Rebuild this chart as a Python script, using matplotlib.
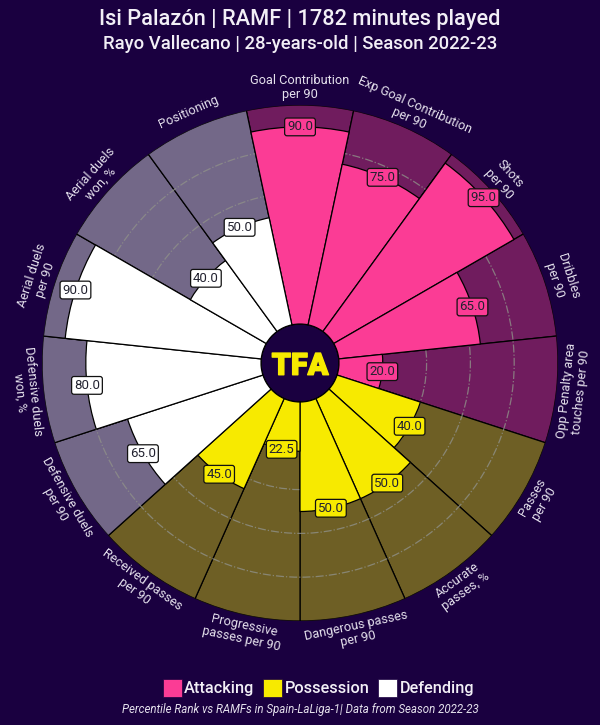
import numpy as np
import matplotlib
matplotlib.use('Agg')
import matplotlib.pyplot as plt
import matplotlib.patheffects as pe
from matplotlib.patches import Patch

plt.rcParams['font.family'] = ['Roboto', 'DejaVu Sans']

# data, clockwise from the top
params = ['Goal Contribution\nper 90', 'Exp Goal Contribution\nper 90', 'Shots\nper 90',
          'Dribbles\nper 90', 'Opp Penalty area\ntouches per 90', 'Passes\nper 90',
          'Accurate\npasses, %', 'Dangerous passes\nper 90', 'Progressive\npasses per 90',
          'Received passes\nper 90', 'Defensive duels\nper 90', 'Defensive duels\nwon, %',
          'Aerial duels\nper 90', 'Aerial duels\nwon, %', 'Positioning']
values = [90, 75, 95, 65, 20, 40, 50, 50, 22.5, 45, 65, 80, 90, 40, 50]
groups = ['Attacking'] * 5 + ['Possession'] * 5 + ['Defending'] * 5
group_names = ['Attacking', 'Possession', 'Defending']

BG = '#1a0040'
slice_colors = {'Attacking': '#fb3c95', 'Possession': '#f7ea00', 'Defending': '#ffffff'}
back_colors = {'Attacking': '#701c5e', 'Possession': '#6e5f25', 'Defending': '#736888'}

fig = plt.figure(figsize=(6, 7.25), dpi=100, facecolor=BG)
ax = fig.add_axes([42 / 600, 104 / 725, 516 / 600, 516 / 725], projection='polar')
ax.set_facecolor(BG)
ax.set_theta_zero_location('N')
ax.set_theta_direction(-1)

n = len(values)
width = 2 * np.pi / n
theta = np.arange(n) * width
colors = [slice_colors[g] for g in groups]
backs = [back_colors[g] for g in groups]

# background wedges, then the grid, then the real values on top
ax.bar(theta, [100] * n, width=width, color=backs, edgecolor='black', linewidth=0.9, zorder=1)
ax.bar(theta, values, width=width, color=colors, edgecolor='black', linewidth=0.9, zorder=3)

ax.set_ylim(-17.8, 100)
ax.set_yticks([40, 60, 80])
ax.set_yticklabels([])
ax.set_xticks([])
ax.set_axisbelow('line')
ax.yaxis.grid(True, color='#8f9088', linestyle='-.', linewidth=0.9, alpha=0.8)
ax.xaxis.grid(False)
ax.spines['polar'].set_visible(False)
ax.spines['inner'].set_visible(False)

for t, v, p, c in zip(theta, values, params, colors):
    deg = np.degrees(t)
    # labels follow the circle but stay readable
    if deg <= 90:
        rot = -deg
    elif deg <= 270:
        rot = 180 - deg
    else:
        rot = 360 - deg
    ax.text(t, 107.8, p, rotation=rot, rotation_mode='anchor', ha='center', va='center',
            ma='center', fontsize=9.2, color='#e4e0ec', linespacing=1.1, zorder=6)
    ax.text(t, v, f'{v:.1f}', ha='center', va='center', fontsize=9.5, color='#222230', zorder=5,
            bbox=dict(boxstyle='round,pad=0.18', fc=c, ec='#111111', lw=0.9))

ax.annotate('TFA', xy=(0, -17.8), xytext=(0, -2), textcoords='offset points', ha='center', va='center',
            fontsize=22, fontweight='black', color='#f7ea00', zorder=7,
            path_effects=[pe.withStroke(linewidth=1, foreground='#f7ea00')])

fig.text(0.5, 1 - 19 / 725, 'Isi Palazón | RAMF | 1782 minutes played', ha='center', va='center',
         fontsize=15.7, fontweight='medium', color='#f2eff6')
fig.text(0.5, 1 - 44 / 725, 'Rayo Vallecano | 28-years-old | Season 2022-23', ha='center', va='center',
         fontsize=13.3, fontweight='medium', color='#f2eff6')

handles = [Patch(facecolor=slice_colors[g], edgecolor=BG, linewidth=0.5, label=g) for g in group_names]
fig.legend(handles=handles, loc='center', bbox_to_anchor=(0.531, 1 - 688 / 725), ncol=3, frameon=False,
           prop={'size': 11.7, 'weight': 'medium'}, labelcolor='#f2eff6', handlelength=1.15, handleheight=1.3,
           handletextpad=0.15, columnspacing=0.55, borderpad=0)

fig.text(0.5, 1 - 710 / 725, 'Percentile Rank vs RAMFs in Spain-LaLiga-1| Data from Season 2022-23',
         ha='center', va='center', fontsize=8.3, style='italic', color='#e4e0ec')

fig.savefig('out.png', dpi=100, facecolor=BG)
